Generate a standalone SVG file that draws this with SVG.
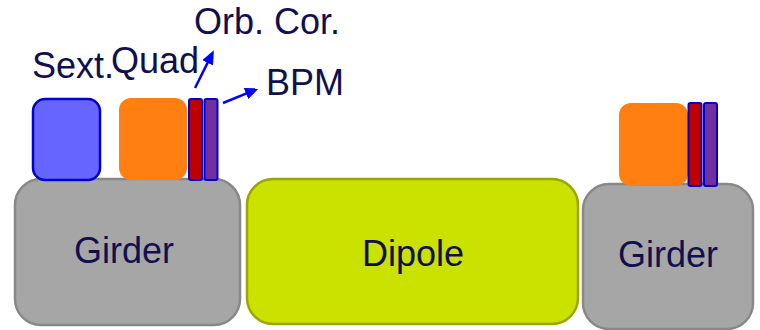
<svg xmlns="http://www.w3.org/2000/svg" width="760" height="330" viewBox="0 0 760 330">
<style>
  text { font-family: "Liberation Sans", Arial, sans-serif; font-size: 36px; fill: #10104F; }
  .girder { fill: #A6A6A6; stroke: #888888; stroke-width: 2.5; }
  .dipole { fill: #CBE100; stroke: #99A600; stroke-width: 2.5; }
  .sext { fill: #6666FF; stroke: #0000CC; stroke-width: 2.5; }
  .quad { fill: #FF8010; }
  .cor { fill: #C00000; stroke: #0000CC; stroke-width: 2; }
  .bpm { fill: #7030A0; stroke: #0000CC; stroke-width: 2; }
  .arrow { stroke: #0000FF; stroke-width: 2.5; fill: none; marker-end: url(#ah); }
</style>
<defs>
  <marker id="ah" markerUnits="userSpaceOnUse" markerWidth="14" markerHeight="12" refX="6" refY="6" orient="auto">
    <path d="M0,0 L14,6 L0,12 z" fill="#0000FF"/>
  </marker>
</defs>
<g id="girder-left">
  <rect class="girder" x="15" y="179" width="225" height="146" rx="26"/>
  <text x="124" y="263" text-anchor="middle">Girder</text>
</g>
<g id="dipole">
  <rect class="dipole" x="247" y="179" width="331" height="145" rx="26"/>
  <text x="413" y="266" text-anchor="middle">Dipole</text>
</g>
<g id="girder-right">
  <rect class="girder" x="583" y="184" width="170" height="145" rx="26"/>
  <text x="668" y="267" text-anchor="middle">Girder</text>
</g>
<g id="sext">
  <rect class="sext" x="33" y="99" width="67" height="81" rx="12"/>
  <text x="32" y="78">Sext.</text>
</g>
<g id="quad-left">
  <rect class="quad" x="119" y="98" width="68" height="82" rx="12"/>
  <text x="111" y="73">Quad</text>
</g>
<g id="orbcor-left">
  <rect class="cor" x="189" y="99" width="13" height="81" rx="2"/>
</g>
<g id="bpm-left">
  <rect class="bpm" x="204.5" y="99" width="13" height="81" rx="2"/>
</g>
<g id="label-orbcor">
  <text x="194" y="34">Orb. Cor.</text>
</g>
<g id="label-bpm">
  <text x="266" y="95">BPM</text>
</g>
<g id="quad-right">
  <rect class="quad" x="619" y="103" width="69" height="83" rx="12"/>
</g>
<g id="orbcor-right">
  <rect class="cor" x="688.5" y="103" width="13" height="83" rx="2"/>
</g>
<g id="bpm-right">
  <rect class="bpm" x="704" y="103" width="13" height="83" rx="2"/>
</g>
<g id="connectors">
  <path class="arrow" d="M195,88 L210.3,57.4"/>
  <path class="arrow" d="M223,103 L251.5,91.3"/>
</g>
</svg>
